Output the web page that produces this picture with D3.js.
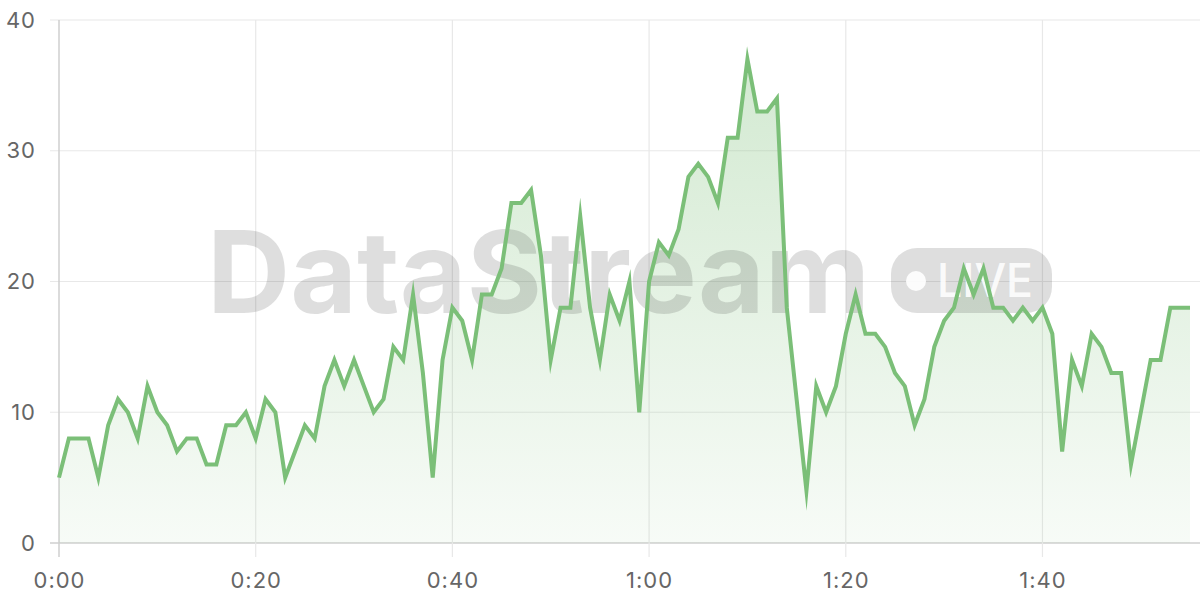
<!DOCTYPE html>
<html>
<head>
<meta charset="utf-8">
<script src="https://cdn.jsdelivr.net/npm/d3@7"></script>
<style>
  html, body { margin: 0; padding: 0; background: #fff; }
  svg { display: block; }
  .tick text { font-family: Inter, "Noto Sans", sans-serif; letter-spacing: 1px; }
</style>
</head>
<body>
<svg id="chart" width="1200" height="600"></svg>
<script>
// ---- data ----
const times = d3.range(0, 116); // seconds offsets 0..115
const values = [
  5, 8, 8, 8, 5, 9, 11, 10, 8, 12,
  10, 9, 7, 8, 8, 6, 6, 9, 9, 10,
  8, 11, 10, 5, 7, 9, 8, 12, 14, 12,
  14, 12, 10, 11, 15, 14, 19, 13, 5, 14,
  18, 17, 14, 19, 19, 21, 26, 26, 27, 22,
  14, 18, 18, 25, 18, 14, 19, 17, 20, 10,
  20, 23, 22, 24, 28, 29, 28, 26, 31, 31,
  37, 33, 33, 34, 18, 11, 4, 12, 10, 12,
  16, 19, 16, 16, 15, 13, 12, 9, 11, 15,
  17, 18, 21, 19, 21, 18, 18, 17, 18, 17,
  18, 16, 7, 14, 12, 16, 15, 13, 13, 6,
  10, 14, 14, 18, 18, 18
];
const xTicks = [0, 20, 40, 60, 80, 100];
const yTicks = [0, 10, 20, 30, 40];
const watermarkText = "DataStream";
const badgeText = "LIVE";

(function () {
const data = times.map((t, i) => ({ t, v: values[i] }));

const svg = d3.select("#chart");
const pLeft = 59, pRight = 1190, pTop = 20, pBottom = 543, gridRight = 1200;

const x = d3.scaleLinear().domain([0, 115]).range([pLeft, pRight]);
const y = d3.scaleLinear().domain([0, 40]).range([pBottom, pTop]);

const fmt = v => Math.floor(v / 60) + ":" + String(v % 60).padStart(2, "0");

// gradient
const defs = svg.append("defs");
const grad = defs.append("linearGradient")
  .attr("id", "areaGrad").attr("gradientUnits", "userSpaceOnUse")
  .attr("x1", 0).attr("x2", 0).attr("y1", pTop).attr("y2", pBottom);
grad.append("stop").attr("offset", "0%").attr("stop-color", "#7cbf78").attr("stop-opacity", 0.36);
grad.append("stop").attr("offset", "100%").attr("stop-color", "#7cbf78").attr("stop-opacity", 0.06);

// horizontal grid
svg.append("g")
  .selectAll("line").data(yTicks).join("line")
  .attr("x1", 50).attr("x2", gridRight)
  .attr("y1", d => y(d)).attr("y2", d => y(d))
  .attr("stroke", d => d === 0 ? "#cfcfcf" : "#e8e8e8")
  .attr("stroke-width", d => d === 0 ? 1.5 : 1.2);

// vertical grid
svg.append("g")
  .selectAll("line").data(xTicks).join("line")
  .attr("x1", d => x(d)).attr("x2", d => x(d))
  .attr("y1", pTop).attr("y2", 557)
  .attr("stroke", d => d === 0 ? "#cfcfcf" : "#e8e8e8")
  .attr("stroke-width", d => d === 0 ? 1.5 : 1.2);

// area
const area = d3.area().x(d => x(d.t)).y0(y(0)).y1(d => y(d.v));
svg.append("path").datum(data)
  .attr("d", area)
  .attr("fill", "url(#areaGrad)");

// watermark
const wm = svg.append("g");
wm.append("text")
  .attr("x", 207).attr("y", 313)
  .attr("font-family", "Inter, 'Liberation Sans', sans-serif")
  .attr("font-weight", 700)
  .attr("font-size", 114)
  .attr("textLength", 663)
  .attr("lengthAdjust", "spacingAndGlyphs")
  .attr("fill", "#000").attr("fill-opacity", 0.13)
  .text(watermarkText);
wm.append("rect")
  .attr("x", 891).attr("y", 248).attr("width", 161).attr("height", 65)
  .attr("rx", 26).attr("ry", 26)
  .attr("fill", "#000").attr("fill-opacity", 0.13);
wm.append("circle")
  .attr("cx", 916).attr("cy", 281).attr("r", 10)
  .attr("fill", "#fff").attr("fill-opacity", 0.9);
wm.append("text")
  .attr("x", 937).attr("y", 297)
  .attr("font-family", "Inter, 'Liberation Sans', sans-serif")
  .attr("font-weight", 500)
  .attr("font-size", 46)
  .attr("textLength", 96)
  .attr("lengthAdjust", "spacingAndGlyphs")
  .attr("fill", "#fff").attr("fill-opacity", 0.9)
  .text(badgeText);

// line
const line = d3.line().x(d => x(d.t)).y(d => y(d.v));
svg.append("path").datum(data)
  .attr("d", line)
  .attr("fill", "none")
  .attr("stroke", "#7bbf78")
  .attr("stroke-width", 4)
  .attr("stroke-linejoin", "miter")
  .attr("stroke-miterlimit", 10);

// axes labels
const xAxis = d3.axisBottom(x).tickValues(xTicks).tickFormat(fmt).tickSize(0).tickPadding(36);
const gx = svg.append("g").attr("transform", `translate(0,${pBottom})`).call(xAxis);
gx.select(".domain").remove();
gx.selectAll("text").attr("font-size", 22).attr("fill", "#666").attr("dy", 0).attr("y", 45);

const yAxis = d3.axisLeft(y).tickValues(yTicks).tickSize(0).tickPadding(23);
const gy = svg.append("g").attr("transform", `translate(${pLeft},0)`).call(yAxis);
gy.select(".domain").remove();
gy.selectAll("text").attr("font-size", 22).attr("fill", "#666");
})();
</script>
</body>
</html>
